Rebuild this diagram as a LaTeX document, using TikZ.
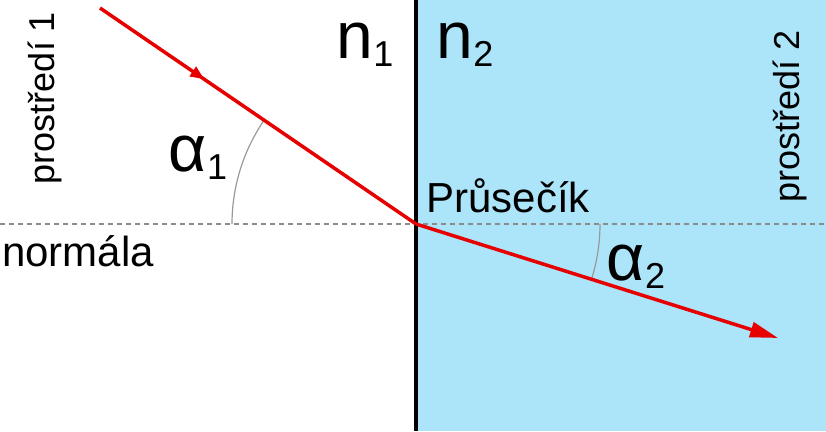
\documentclass[tikz,border=0pt]{standalone}
\usepackage{fontspec}
\setmainfont{Liberation Sans}
\usetikzlibrary{decorations.markings,arrows.meta}
\definecolor{water}{RGB}{172,228,250}
\definecolor{ray}{RGB}{230,0,0}
\newcommand{\mysub}[1]{\raisebox{-0.12em}{\fontsize{36}{36}\selectfont #1}}
\tikzset{
  rayline/.style={draw=ray,line width=3.5pt},
  anglearc/.style={draw=gray!80,line width=1.2pt},
  lbl/.style={inner sep=0pt,font=\fontsize{42}{44}\selectfont},
  sidelbl/.style={inner sep=0pt,rotate=90,font=\fontsize{36}{38}\selectfont},
  big/.style={inner sep=0pt,font=\fontsize{66}{66}\selectfont},
}
\begin{document}
\begin{tikzpicture}[x=1pt,y=-1pt]
\useasboundingbox (0,0) rectangle (826,431);
\fill[water] (416,0) rectangle (826,431);
\draw[gray!90,dashed,line width=1.2pt,dash pattern=on 5pt off 4pt] (0,224) -- (826,224);
\coordinate (src) at (100,8);
\coordinate (P) at (416,224);
\coordinate (dst) at (778,338);
\draw[anglearc] (232,224) arc[start angle=180,end angle={180+34.4},radius=184];
\draw[anglearc] (600,224) arc[start angle=0,end angle={17.5},radius=184];
\draw[line width=3.5pt] (416,0) -- (416,431);
\draw[rayline,postaction={decorate},decoration={markings,mark=at position 0.33 with {\arrow{Triangle[length=14pt,width=11pt]}}}] (src) -- (P);
\draw[rayline,-{Triangle[length=28pt,width=15pt]}] (P) -- (dst);
\node[big] (n1) at (365,45) {n\mysub{1}};
\node[big] (n2) at (465,45) {n\mysub{2}};
\node[big] (a1) at (198,158) {α\mysub{1}};
\node[big] (a2) at (636,267) {α\mysub{2}};
\node[lbl] (pr) at (508,196) {Průsečík};
\node[lbl] (no) at (78,251) {normála};
\node[sidelbl] (p1) at (45,98) {prostředí 1};
\node[sidelbl] (p2) at (790,116) {prostředí 2};
\end{tikzpicture}
\end{document}
